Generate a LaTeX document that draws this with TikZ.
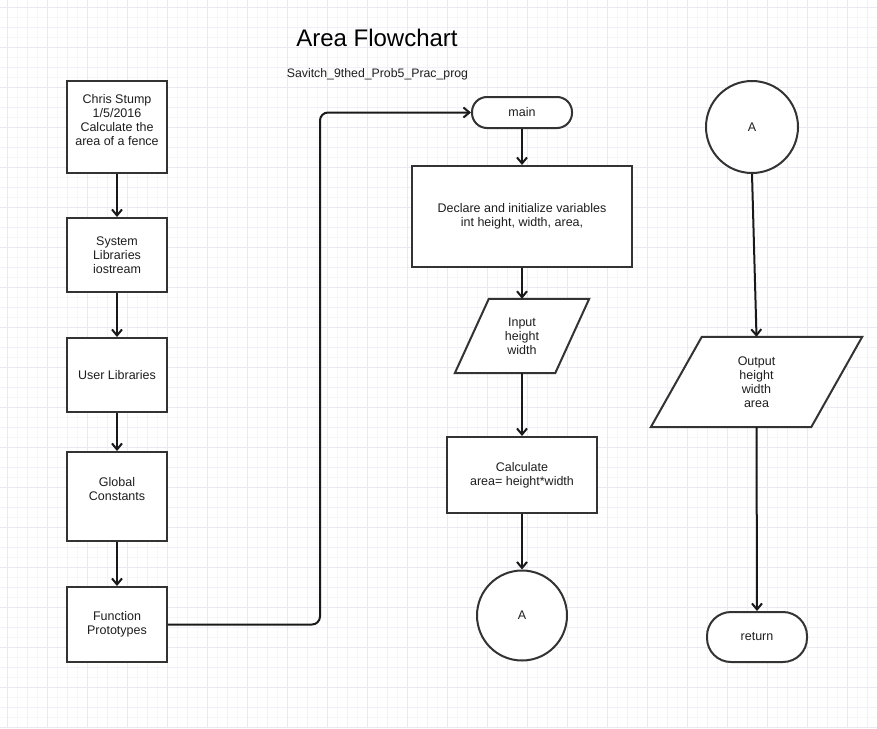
\documentclass[tikz,border=0pt]{standalone}
\usepackage{fontspec}
\setmainfont{Liberation Sans}
\usetikzlibrary{arrows.meta}
\definecolor{gridfaint}{HTML}{F7F7FA}
\definecolor{gridminor}{HTML}{F0F0F6}
\definecolor{gridmajor}{HTML}{E9E9F1}
\definecolor{edge}{HTML}{333333}
\definecolor{txt}{HTML}{1E1E1E}
\pgfdeclarelayer{gridlayer}
\pgfdeclarelayer{shapes}
\pgfsetlayers{gridlayer,shapes,main}
\newcommand{\bodyfont}{\fontsize{12.5}{14}\selectfont}
\begin{document}
\begin{tikzpicture}[x=1pt,y=-1pt,
  outline/.style={draw=edge,line width=2pt,fill=white},
  box/.style={outline,inner sep=0pt,align=center,font=\bodyfont,text=txt},
  capsule/.style={box,rounded corners=#1},
  circ/.style={box,circle},
  para/.style={inner sep=0pt,align=center,font=\bodyfont,text=txt},
  flow/.style={draw=black!90,line width=2pt,-{Straight Barb[length=6pt,width=10pt]}},
  title/.style={font=\fontsize{24}{28}\selectfont,text=black},
  subtitle/.style={font=\fontsize{12.3}{14}\selectfont,text=txt}
]
\useasboundingbox (0,0) rectangle (877,728);
\begin{pgfonlayer}{gridlayer}
  \fill[white] (0,0) rectangle (877,728);
  \foreach \v in {17,37,...,877} {
    \draw[gridfaint,line width=0.6pt] (\v,0) -- (\v,728);
  }
  \foreach \v in {17,37,...,728} {
    \draw[gridfaint,line width=0.6pt] (0,\v) -- (877,\v);
  }
  \foreach \v in {7,27,...,877} {
    \draw[gridminor,line width=0.6pt] (\v,0) -- (\v,728);
  }
  \foreach \v in {7,27,...,728} {
    \draw[gridminor,line width=0.6pt] (0,\v) -- (877,\v);
  }
  \foreach \v in {7,47,...,877} {
    \draw[gridmajor,line width=0.6pt] (\v,0) -- (\v,728);
  }
  \foreach \v in {7,47,...,728} {
    \draw[gridmajor,line width=0.6pt] (0,\v) -- (877,\v);
  }
\end{pgfonlayer}

% titles
\node[title,anchor=base] (ttl) at (377,46) {Area Flowchart};
\node[subtitle,anchor=base] (sub) at (377.5,77) {Savitch\_9thed\_Prob5\_Prac\_prog};

% left column
\node[box,minimum width=100pt,minimum height=92pt] (hdr) at (117,127) {Chris Stump\\1/5/2016\\Calculate the\\area of a fence\\[-4pt]\strut};
\node[box,minimum width=100pt,minimum height=74pt] (sys) at (117,255) {System\\Libraries\\iostream};
\node[box,minimum width=100pt,minimum height=74pt] (usr) at (117,375) {User Libraries};
\node[box,minimum width=100pt,minimum height=89pt] (glob) at (117,496.5) {Global\\Constants\\[-4pt]\strut};
\node[box,minimum width=100pt,minimum height=75pt] (fp) at (117,624.5) {Function\\Prototypes};

% middle column
\node[capsule=15pt,minimum width=100pt,minimum height=31pt] (main) at (522,112.5) {\raisebox{-1.5pt}{main}};
\node[box,minimum width=220pt,minimum height=101pt] (decl) at (522,216.5) {Declare and initialize variables\\int height, width, area,};
\node[para,minimum width=134pt,minimum height=74pt] (inp) at (522,336) {Input\\height\\width};
\node[box,minimum width=150pt,minimum height=76pt] (calc) at (522,475) {Calculate\\area= height*width};
\node[circ,minimum size=90pt] (a1) at (522,615.5) {A};

% right column
\node[circ,minimum size=92pt] (a2) at (752,127) {A};
\node[para,minimum width=211pt,minimum height=90pt] (outp) at (756.5,382) {Output\\height\\width\\area};
\node[capsule=24pt,minimum width=100pt,minimum height=50pt] (ret) at (757,637) {return};

\begin{pgfonlayer}{shapes}
  \draw[outline] ([xshift=34pt]inp.north west) -- (inp.north east) -- ([xshift=-34pt]inp.south east) -- (inp.south west) -- cycle;
  \draw[outline] ([xshift=51pt]outp.north west) -- (outp.north east) -- ([xshift=-51pt]outp.south east) -- (outp.south west) -- cycle;
\end{pgfonlayer}

% connectors
\draw[flow] (hdr) -- (sys);
\draw[flow] (sys) -- (usr);
\draw[flow] (usr) -- (glob);
\draw[flow] (glob) -- (fp);
\coordinate (bend) at (320,0);
\draw[flow,rounded corners=8pt] (fp.east) -- (fp.east -| bend) |- (main.west);
\draw[flow] (main) -- (decl);
\draw[flow] (decl.south) -- (inp.north);
\draw[flow] (inp.south) -- (calc.north);
\draw[flow] (calc) -- (a1);
\draw[flow] (a2.south) -- (outp.north);
\draw[flow] (outp.south) -- (ret.north);
\end{tikzpicture}
\end{document}
